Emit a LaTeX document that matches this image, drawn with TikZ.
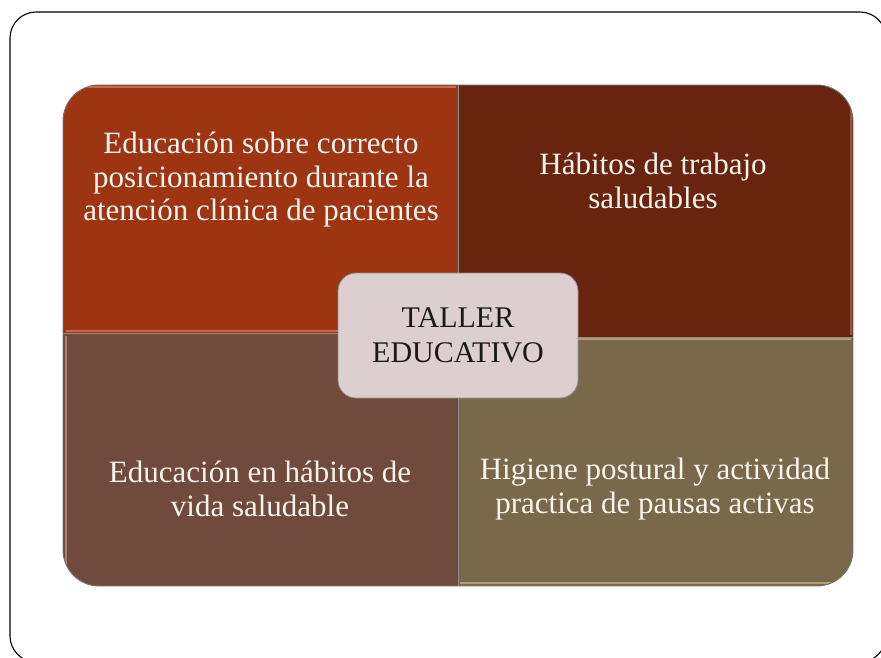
\documentclass[tikz,border=0pt]{standalone}
\usepackage{fontspec}
\setmainfont{Liberation Serif}
\usepackage{tikz}
\definecolor{rustred}{RGB}{157,52,18}
\definecolor{darkrust}{RGB}{105,36,16}
\definecolor{cocoa}{RGB}{111,74,61}
\definecolor{olivebrown}{RGB}{122,104,75}
\definecolor{palerose}{RGB}{221,207,207}
\definecolor{cream}{RGB}{250,244,238}

\begin{document}
\begin{tikzpicture}[x=1pt,y=-1pt]
\tikzstyle{every node}+=[inner sep=0pt]
\tikzstyle{celltext}=[text=cream, align=center, font=\fontsize{31}{33.5}\selectfont]
\tikzstyle{shine}=[line width=1.6pt, opacity=0.55]
\useasboundingbox (0,0) rectangle (881,657);
\fill [white] (0,0) rectangle (881,657);
\draw [black, line width=1.1pt, rounded corners=26pt] (10,12) rectangle (886,662);
\begin{scope}
\clip [rounded corners=36pt] (63,85) rectangle (853,586);
\fill [rustred] (63,85) rectangle (458,333);
\fill [darkrust] (458,85) rectangle (853,337);
\fill [cocoa] (63,333) rectangle (458,586);
\fill [olivebrown] (458,337) rectangle (853,586);
\draw [shine, draw={rgb,255:red,235;green,150;blue,115}] (63,87) -- (456,87);
\draw [shine, draw={rgb,255:red,235;green,150;blue,115}] (66,331) -- (456,331);
\draw [shine, draw={rgb,255:red,215;green,170;blue,150}] (66,336) -- (66,584);
\draw [shine, draw={rgb,255:red,205;green,120;blue,95}] (851,87) -- (851,335);
\draw [shine, draw={rgb,255:red,225;green,205;blue,160}] (460,339) -- (851,339);
\draw [shine, draw={rgb,255:red,225;green,205;blue,160}] (460,583) -- (845,583);
\draw [black!45, line width=0.6pt] (458,85) -- (458,586);
\draw [black!45, line width=0.6pt] (63,333) -- (458,333);
\draw [black!45, line width=0.6pt] (458,337) -- (853,337);
\end{scope}
\draw [black!55, line width=0.9pt, rounded corners=36pt] (63,85) rectangle (853,586);
\node [celltext] (posicion) at (261,180) {Educación sobre correcto\\posicionamiento durante la\\atención clínica de pacientes};
\node [celltext] (habitos) at (653,181) {Hábitos de trabajo\\saludables};
\node [celltext] (vida) at (260,489) {Educación en hábitos de\\vida saludable};
\node [celltext] (higiene) at (655,489) {Higiene postural y actividad\\practica de pausas activas};
\node [draw=black!45, line width=0.8pt, fill=palerose, rounded corners=18pt, minimum width=240pt, minimum height=125pt, align=center, text=black!90, font=\fontsize{30}{35}\selectfont] (taller) at (458,335.5) {TALLER\\EDUCATIVO};
\end{tikzpicture}
\end{document}
